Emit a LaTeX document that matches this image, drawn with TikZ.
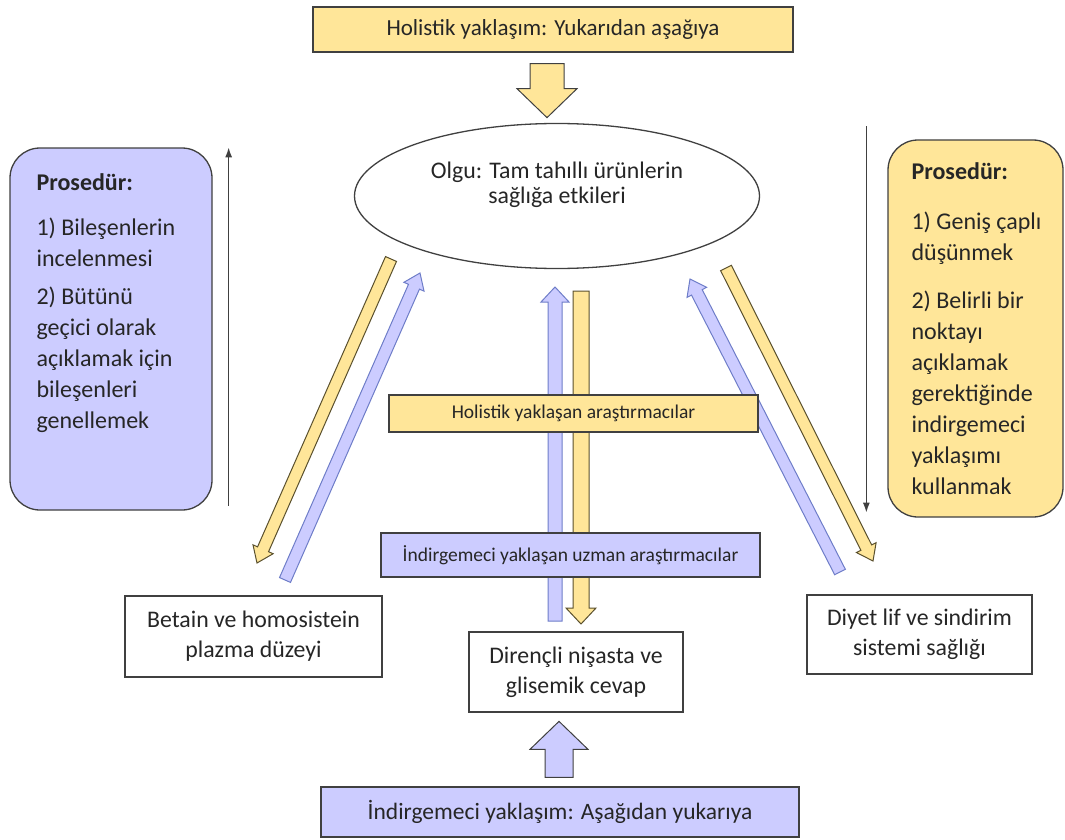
\documentclass[tikz,border=0pt]{standalone}
\usepackage{fontspec}
\setmainfont{Carlito}
\usetikzlibrary{calc,positioning,shapes.geometric,arrows.meta}
\definecolor{sari}{RGB}{255,230,153}
\definecolor{lila}{RGB}{204,204,255}
\definecolor{kenar}{RGB}{64,64,64}
\definecolor{mavikenar}{RGB}{110,125,200}
\definecolor{sarikenar}{RGB}{90,80,45}
\tikzstyle{kutu}     = [draw=kenar, line width=1.3pt, inner sep=0pt, text=black!85]
\tikzstyle{baslik}   = [kutu, font=\fontsize{23.5}{28}\selectfont]
\tikzstyle{etiket}   = [kutu, font=\fontsize{19.5}{24}\selectfont]
\tikzstyle{sonuc}    = [kutu, fill=white, align=center, font=\fontsize{23.8}{30}\selectfont]
\tikzstyle{prosedur} = [kutu, rounded corners=30pt]
\tikzstyle{metin}    = [align=left, inner sep=0pt, text=black!85, font=\fontsize{24}{31}\selectfont]
\tikzstyle{ince}     = [kenar, line width=1.4pt, -{Latex[length=10pt,width=7pt]}]
\tikzstyle{sariok}   = [fill=sari, draw=sarikenar, line width=1pt]
\tikzstyle{mavok}    = [fill=lila, draw=mavikenar, line width=1pt]

% blok ok: stil, baslangic, uc, yarim govde, yarim bas, bas boyu
\newcommand{\blokok}[6]{%
  \coordinate (hb) at ($(#3)!#6!(#2)$);
  \draw[#1] ($(#2)!#4!90:(#3)$) -- ($(hb)!#4!90:(#3)$) -- ($(hb)!#5!90:(#3)$) -- (#3)
    -- ($(hb)!#5!-90:(#3)$) -- ($(hb)!#4!-90:(#3)$) -- ($(#2)!#4!-90:(#3)$) -- cycle;
}

\begin{document}
\begin{tikzpicture}[x=1pt,y=-1pt]
	\useasboundingbox (0,0) rectangle (1065,840);

	% ust ve alt yaklasimlar
	\node[baslik, fill=sari, minimum width=480pt, minimum height=45pt, font=\fontsize{23}{28}\selectfont] (hol) at (553,29.5) {Holistik yaklaşım: Yukarıdan aşağıya};
	\node[baslik, fill=lila, minimum width=478pt, minimum height=50pt] (ind) at (560,812) {İndirgemeci yaklaşım: Aşağıdan yukarıya};

	\node[kutu, ellipse, fill=white, minimum width=405pt, minimum height=145pt] (olgu) at (557,196) {};
	\node[align=center, text=black!85, font=\fontsize{23.8}{25}\selectfont] (olgutext) at ($(olgu.center)+(0,-11)$) {Olgu: Tam tahıllı ürünlerin\\sağlığa etkileri};

	% prosedur kutulari
	\node[prosedur, fill=lila, minimum width=202pt, minimum height=362pt] (lproc) at (111,329) {};
	\node[metin, below right=26pt and 27pt of lproc.north west] (ltext) {\textbf{Prosedür:}\\[14pt]
		1) Bileşenlerin\\incelenmesi\\[7pt]
		2) Bütünü\\geçici olarak\\açıklamak için\\bileşenleri\\genellemek};

	\node[prosedur, fill=sari, minimum width=175pt, minimum height=377pt] (rproc) at (975.5,328.5) {};
	\node[metin, below right=23pt and 24pt of rproc.north west] (rtext) {\textbf{Prosedür:}\\[19pt]
		1) Geniş çaplı\\düşünmek\\[17pt]
		2) Belirli bir\\noktayı\\açıklamak\\gerektiğinde\\indirgemeci\\yaklaşımı\\kullanmak};

	\coordinate (la1) at ($(lproc.south east)+(16,-5)$);
	\coordinate (la2) at ($(lproc.north east)+(16,0)$);
	\draw[ince] (la1) -- (la2);
	\coordinate (ra1) at ($(rproc.north west)+(-21,-13)$);
	\coordinate (ra2) at ($(rproc.south west)+(-21,-5)$);
	\draw[ince] (ra1) -- (ra2);

	% buyuk oklar
	\coordinate (ta1) at ($(hol.south)+(-6,11)$);
	\coordinate (ta2) at ($(hol.south)+(-6,65)$);
	\blokok{sariok,draw=kenar}{ta1}{ta2}{17pt}{30pt}{29pt}
	\coordinate (ba1) at ($(ind.north)+(-1,-9)$);
	\coordinate (ba2) at ($(ind.north)+(-1,-65)$);
	\blokok{mavok,draw=kenar}{ba1}{ba2}{14pt}{29pt}{28pt}

	% ince blok oklar
	\coordinate (sl1) at (391,259); \coordinate (sl2) at (257,563);
	\coordinate (ml1) at (285,580); \coordinate (ml2) at (420,273);
	\coordinate (mr1) at (840,572); \coordinate (mr2) at (690,279);
	\coordinate (sr1) at (726,268); \coordinate (sr2) at (873,561);
	\coordinate (mm1) at (555,621); \coordinate (mm2) at (555,287);
	\coordinate (sm1) at (581,291); \coordinate (sm2) at (581,624);
	\blokok{sariok}{sl1}{sl2}{6pt}{11pt}{15pt}
	\blokok{mavok}{ml1}{ml2}{6pt}{11pt}{15pt}
	\blokok{mavok}{mr1}{mr2}{6pt}{11pt}{15pt}
	\blokok{sariok}{sr1}{sr2}{6pt}{11pt}{15pt}
	\blokok{mavok}{mm1}{mm2}{7pt}{14pt}{15pt}
	\blokok{sariok}{sm1}{sm2}{8pt}{15pt}{16pt}

	% arastirmacilar
	\node[etiket, fill=sari, minimum width=369pt, minimum height=37pt] (hres) at (573.5,413.5) {Holistik yaklaşan araştırmacılar};
	\node[etiket, fill=lila, minimum width=379pt, minimum height=44pt] (ires) at (570.5,555) {İndirgemeci yaklaşan uzman araştırmacılar};

	% sonuclar
	\node[sonuc, minimum width=257pt, minimum height=81pt] (bet) at (253.5,636.5) {Betain ve homosistein\\plazma düzeyi};
	\node[sonuc, minimum width=214pt, minimum height=80pt] (dir) at (576,672) {Dirençli nişasta ve\\glisemik cevap};
	\node[sonuc, minimum width=225pt, minimum height=79pt] (diy) at (919.5,634.5) {Diyet lif ve sindirim\\sistemi sağlığı};
\end{tikzpicture}
\end{document}
